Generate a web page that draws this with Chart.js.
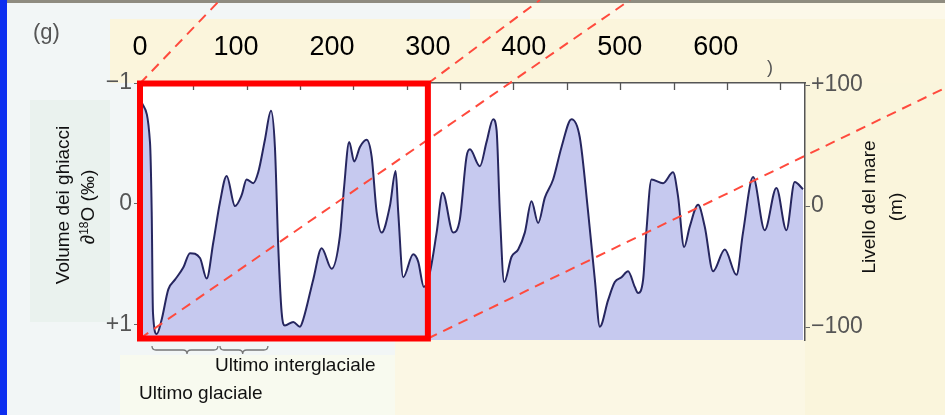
<!DOCTYPE html>
<html>
<head>
<meta charset="utf-8">
<script src="https://cdn.jsdelivr.net/npm/chart.js@4.4.1/dist/chart.umd.min.js"></script>
<style>
  html, body { margin: 0; padding: 0; }
  body { width: 945px; height: 415px; position: relative; overflow: hidden; font-family: "Liberation Sans", Arial, sans-serif; }
  canvas { position: absolute; left: 0; top: 0; }
  .box { position: absolute; }
  .txt { position: absolute; white-space: nowrap; color: #111; font-size: 19px; line-height: 1; transform: translate(0, -50%); }
  .rot { position: absolute; white-space: nowrap; color: #111; font-size: 19px; line-height: 1; transform: translate(-50%, -50%) rotate(-90deg); }
  sup { font-size: 12px; vertical-align: 6px; }
</style>
</head>
<body>
<canvas id="graphique" width="945" height="415"></canvas>

<div class="txt" style="left:33px;top:32px;font-size:22px;color:#555">(g)</div>
<div class="txt" style="left:767px;top:67px;font-size:18px;color:#555">)</div>

<div class="box" style="left:30px;top:100px;width:80px;height:222px;background:#eaf2ee"></div>
<div class="rot" style="left:62px;top:205px">Volume dei ghiacci</div>
<div class="rot" style="left:87px;top:207px">∂<sup>18</sup>O (‰)</div>

<div class="rot" style="left:868px;top:207px">Livello del mare</div>
<div class="rot" style="left:895px;top:207px">(m)</div>

<div class="box" style="left:120px;top:355px;width:275px;height:60px;background:#f8faef"></div>
<div class="txt" style="left:215px;top:364px">Ultimo interglaciale</div>
<div class="txt" style="left:139px;top:392px">Ultimo glaciale</div>

<script>
// --- DONNÉES ---
// âge en milliers d'années
const ages = [1.8, 10.4, 12.2, 13.5, 17.4, 22.6, 29.5, 36.5, 45.1, 52.1,
  62.5, 69.5, 76.4, 83.3, 90.3, 99.0, 105.9, 111.1, 118.0, 123.2,
  130.2, 136.5, 140.6, 144.1, 147.6, 151.0, 159.7, 166.7, 170.1, 180.5,
  189.3, 199.7, 208.3, 212.5, 218.0, 223.2, 229.2, 236.1, 241.4, 246.6,
  251.8, 260.4, 266.4, 269.1, 274.3, 284.7, 289.9, 295.8, 302.1, 309.1,
  315.3, 326.4, 333.3, 340.3, 343.8, 354.2, 361.1, 368.0, 371.6, 375.0,
  379.5, 387.2, 394.1, 401.0, 408.0, 414.9, 421.9, 430.5, 439.3, 449.7,
  458.3, 467.0, 474.0, 479.2, 487.8, 494.8, 501.8, 508.6, 515.6, 519.1,
  524.3, 527.8, 533.0, 545.1, 555.5, 560.7, 567.0, 572.9, 581.6, 588.5,
  597.2, 609.4, 621.6, 628.4, 638.9, 651.0, 663.2, 673.6, 682.3, 690.9];
// delta 18O (‰), axe inversé
const delta18O = [-0.84, -0.51, 0.07, 0.90, 1.08, 0.96, 0.71, 0.63, 0.53, 0.41,
  0.45, 0.62, 0.32, -0.01, -0.23, 0.02, -0.07, -0.20, -0.17, -0.26,
  -0.53, -0.77, -0.47, 0.36, 0.90, 1.01, 0.98, 1.02, 0.96, 0.63,
  0.37, 0.54, 0.27, -0.12, -0.51, -0.35, -0.47, -0.53, -0.39, 0.07,
  0.24, 0.02, -0.27, 0.07, 0.61, 0.42, 0.48, 0.69, 0.57, 0.24,
  -0.09, 0.24, 0.13, -0.39, -0.45, -0.31, -0.51, -0.70, -0.61, 0.07,
  0.65, 0.44, 0.38, 0.24, -0.02, 0.16, -0.05, -0.20, -0.47, -0.70,
  -0.55, 0.07, 0.63, 1.02, 0.80, 0.65, 0.61, 0.56, 0.69, 0.74,
  0.63, 0.22, -0.20, -0.17, -0.26, -0.06, 0.36, 0.19, 0.01, 0.19,
  0.56, 0.38, 0.59, 0.24, -0.22, 0.22, -0.13, 0.22, -0.18, -0.12];

const ticksAges = [0, 100, 200, 300, 400, 500, 600];
const etiquettesAges = ['0', '100', '200', '300', '400', '500', '600'];
const ticksDelta = [-1, 0, 1];
const etiquettesDelta = ['\u22121', '0', '+1'];
const ticksMer = [100, 0, -100];
const etiquettesMer = ['+100', '0', '\u2212100'];

// zone encadrée en rouge (âges)
const zoneRouge = [0, 300];
// accolades : [début, pointe, fin] en âges
const accolades = [[12.5, 49, 81.2], [83.3, 107, 133.3]];
// pas des petites graduations de la figure d'origine
const pasGraduation = 55.6;

const police = '"Liberation Sans", Arial, sans-serif';

// --- DÉCOR : fonds, cadre rouge, lignes pointillées ---
const decor = {
  id: 'decor',
  beforeDraw(chart) {
    const c = chart.ctx, a = chart.chartArea, W = chart.width, H = chart.height;
    c.save();
    c.fillStyle = '#f2f6f6'; c.fillRect(0, 0, W, H);
    c.fillStyle = '#fcf8e9'; c.fillRect(470, 3, W - 470, 16);
    c.fillStyle = '#fbf5dc'; c.fillRect(110, 19, W - 110, a.top - 19);
    c.fillStyle = '#faf5dc'; c.fillRect(a.right, a.top, W - a.right, H - a.top);
    c.fillStyle = '#fbf7e4'; c.fillRect(395, a.bottom, a.right - 395, H - a.bottom);
    c.fillStyle = '#0d2ff0'; c.fillRect(0, 0, 7, H);
    c.fillStyle = '#8f8c80'; c.fillRect(7, 0, W - 7, 3);
    c.fillStyle = '#ffffff'; c.fillRect(a.left, a.top, a.right - a.left, a.bottom - a.top);
    c.restore();
  },
  afterDraw(chart) {
    const c = chart.ctx, a = chart.chartArea, x = chart.scales.x;
    c.save();
    // petites graduations internes (haut)
    c.strokeStyle = '#555'; c.lineWidth = 1.3;
    for (let v = pasGraduation; v < x.max; v += pasGraduation) {
      const px = Math.round(x.getPixelForValue(v)) + 0.5;
      c.beginPath(); c.moveTo(px, a.top); c.lineTo(px, a.top + 7); c.stroke();
    }
    // accolades sous le graphique
    c.strokeStyle = '#777'; c.lineWidth = 1.3;
    accolades.forEach(([d, m, f]) => {
      const x1 = x.getPixelForValue(d), xm = x.getPixelForValue(m), x2 = x.getPixelForValue(f);
      const y = a.bottom + 6, h = 8;
      c.beginPath();
      c.moveTo(x1, y);
      c.quadraticCurveTo(x1, y + h / 2, x1 + 4, y + h / 2);
      c.lineTo(xm - 4, y + h / 2);
      c.quadraticCurveTo(xm, y + h / 2, xm, y + h);
      c.quadraticCurveTo(xm, y + h / 2, xm + 4, y + h / 2);
      c.lineTo(x2 - 4, y + h / 2);
      c.quadraticCurveTo(x2, y + h / 2, x2, y);
      c.stroke();
    });
    // cadre rouge et lignes de zoom
    const gx = x.getPixelForValue(zoneRouge[0]), dx = x.getPixelForValue(zoneRouge[1]);
    const haut = a.top + 0.5, bas = a.bottom - 1.5;
    const lignes = [
      [gx, haut, 220, 0],
      [dx, haut, 540, 0],
      [gx, bas, 630, 0],
      [dx, bas, chart.width, 88]
    ];
    c.strokeStyle = '#ff4a3d'; c.lineWidth = 2; c.setLineDash([10, 7]);
    lignes.forEach(([x1, y1, x2, y2]) => {
      c.beginPath(); c.moveTo(x1, y1); c.lineTo(x2, y2); c.stroke();
    });
    c.setLineDash([]);
    c.strokeStyle = '#ff0000'; c.lineWidth = 6;
    c.strokeRect(gx, haut, dx - gx, bas - haut);
    c.restore();
  }
};

const ctx = document.getElementById('graphique').getContext('2d');
new Chart(ctx, {
  type: 'line',
  data: {
    datasets: [{
      data: ages.map((a, i) => ({ x: a, y: delta18O[i] })),
      yAxisID: 'y',
      borderColor: '#26265f',
      borderWidth: 2,
      backgroundColor: '#c6c9ef',
      fill: 'start',
      pointRadius: 0,
      cubicInterpolationMode: 'monotone'
    }]
  },
  options: {
    responsive: false,
    animation: false,
    layout: { padding: { left: 100, right: 70, top: 20, bottom: 75 } },
    scales: {
      x: {
        type: 'linear', position: 'top', min: 0, max: 693,
        afterBuildTicks: s => { s.ticks = ticksAges.map(v => ({ value: v })); },
        afterFit: s => { s.height = 63; },
        ticks: {
          callback: (v, i) => etiquettesAges[i],
          font: { size: 27, family: police }, color: '#000',
          padding: 19, maxRotation: 0, autoSkip: false
        },
        grid: { drawOnChartArea: false, drawTicks: false },
        border: { display: true, color: '#555', width: 1.5 }
      },
      y: {
        type: 'linear', position: 'left', reverse: true, min: -1, max: 1.13,
        afterBuildTicks: s => { s.ticks = ticksDelta.map(v => ({ value: v })); },
        afterFit: s => { s.width = 40; },
        ticks: {
          callback: (v, i) => etiquettesDelta[i],
          font: { size: 23, family: police }, color: '#555', padding: 2
        },
        grid: { drawOnChartArea: false, tickLength: 6, color: '#666' },
        border: { display: false }
      },
      y2: {
        type: 'linear', position: 'right', min: -110.7, max: 101.7,
        afterBuildTicks: s => { s.ticks = ticksMer.map(v => ({ value: v })); },
        afterFit: s => { s.width = 70; },
        ticks: {
          callback: (v, i) => etiquettesMer[i],
          font: { size: 23, family: police }, color: '#555', padding: 1
        },
        grid: { drawOnChartArea: false, tickLength: 5, color: '#666' },
        border: { display: true, color: '#555', width: 1.5 }
      }
    },
    plugins: {
      legend: { display: false },
      tooltip: { enabled: false }
    }
  },
  plugins: [decor]
});
</script>
</body>
</html>
